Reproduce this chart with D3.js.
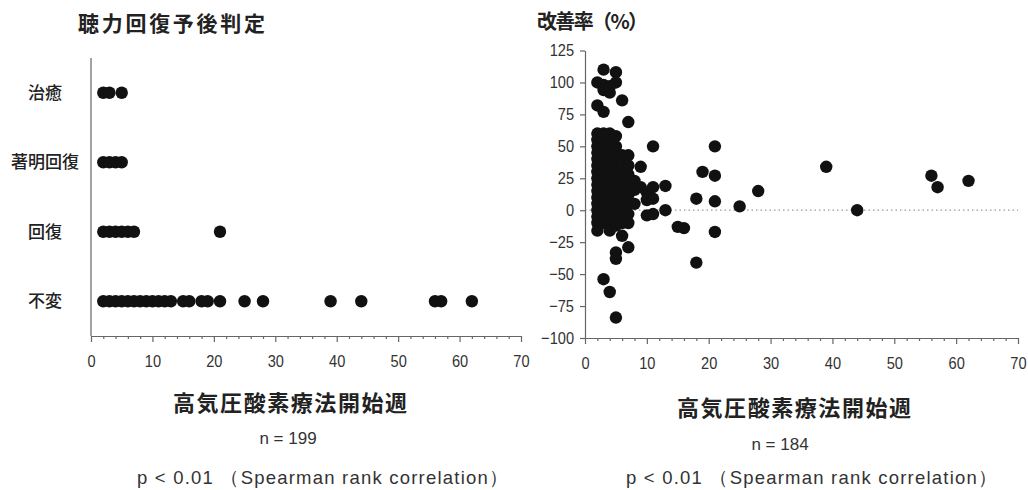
<!DOCTYPE html>
<html>
<head>
<meta charset="utf-8">
<script src="https://cdn.jsdelivr.net/npm/d3@7"></script>
<style>
  body { margin: 0; background: #fff; }
  svg { display: block; }
  .cjk { font-family: "Noto Sans CJK JP", "Noto Sans", sans-serif; fill: #222; }
  .num { font-family: "Liberation Sans", Arial, sans-serif; fill: #333; }
  .axis path, .axis line { stroke: #666; stroke-width: 1.2; }
  .axis text { font-family: "Liberation Sans", Arial, sans-serif; font-size: 17px; fill: #333; }
</style>
</head>
<body>
<svg id="chart" width="1028" height="490"></svg>
<script>
// ---- data ----
// Prognosis grades, bottom to top
const gradeLabels = ["不変", "回復", "著明回復", "治癒"];
// Week of HBO start for each grade
const unchangedWeeks = [2, 3, 4, 5, 6, 7, 8, 9, 10, 11, 12, 13, 15, 16, 18, 19, 21, 25, 28, 39, 44, 56, 57, 62];
const recoveryWeeks = [2, 3, 4, 5, 6, 7, 21];
const markedWeeks = [2, 3, 4, 5];
const cureWeeks = [2, 3, 5];

// Improvement rate (%) against week of HBO start: [week, rate]
const rateSeries = [
  [2, 100], [2, 82], [2, 60], [2, 55], [2, 50], [2, 45], [2, 40], [2, 35], [2, 30], [2, 25],
  [2, 20], [2, 15], [2, 10], [2, 5], [2, 0], [2, -5], [2, -10], [2, -16],
  [3, 110], [3, 98], [3, 94], [3, 77], [3, 60], [3, 55], [3, 50], [3, 45], [3, 40], [3, 35],
  [3, 30], [3, 25], [3, 20], [3, 15], [3, 10], [3, 5], [3, 0], [3, -5], [3, -10], [3, -54],
  [4, 97], [4, 92], [4, 60], [4, 52], [4, 45], [4, 38], [4, 30], [4, 22], [4, 15], [4, 8],
  [4, 0], [4, -6], [4, -12], [4, -16], [4, -64],
  [5, 108], [5, 100], [5, 58], [5, 50], [5, 42], [5, 34], [5, 26], [5, 18], [5, 10], [5, 2],
  [5, -5], [5, -12], [5, -33], [5, -38], [5, -84],
  [6, 86], [6, 43], [6, 36], [6, 28], [6, 20], [6, 12], [6, 5], [6, -3], [6, -10], [6, -20],
  [7, 69], [7, 43], [7, 35], [7, 28], [7, 20], [7, 12], [7, 5], [7, -3], [7, -10], [7, -29],
  [8, 23], [8, 16], [8, 5],
  [9, 34], [9, 18],
  [10, 14], [10, 8], [10, -4],
  [11, 50], [11, 18], [11, 9], [11, -3],
  [13, 19], [13, 0],
  [15, -13], [16, -14],
  [18, 9], [18, -41],
  [19, 30],
  [21, 50], [21, 27], [21, 7], [21, -17],
  [25, 3], [28, 15], [39, 34], [44, 0],
  [56, 27], [57, 18], [62, 23]
];

const weekTicks = d3.range(0, 71, 2);
const rateTicks = d3.range(-100, 126, 25);

const dotR = 6.2;
const dotColor = "#111";

const svg = d3.select("#chart");

// ---- left panel: prognosis grade vs start week ----
const xL = d3.scaleLinear().domain([0, 70]).range([91, 521]);
const yL = d3.scalePoint().domain(gradeLabels).range([336, 58]).padding(0.5);

const gradeRows = [
  { grade: "不変", weeks: unchangedWeeks },
  { grade: "回復", weeks: recoveryWeeks },
  { grade: "著明回復", weeks: markedWeeks },
  { grade: "治癒", weeks: cureWeeks }
];

// condensed look for the numeric tick labels
function narrowLabels(g) {
  g.selectAll(".tick text").each(function () {
    const t = d3.select(this);
    const x = +t.attr("x") || 0;
    t.attr("x", x / 0.86).attr("transform", "scale(0.86,1)");
  });
}

function weekAxis(g, scale) {
  g.attr("class", "axis")
   .call(d3.axisBottom(scale)
     .tickValues(weekTicks)
     .tickSize(3)
     .tickSizeOuter(0)
     .tickFormat(d => d % 10 === 0 ? d : ""));
  g.selectAll(".tick line").attr("y2", d => d % 10 === 0 ? 6 : 3);
  g.selectAll(".tick text").attr("y", 19);
  narrowLabels(g);
}

svg.append("g").attr("transform", "translate(0,336)").call(g => weekAxis(g, xL));
svg.append("line")
  .attr("x1", 91).attr("x2", 91).attr("y1", 58).attr("y2", 336)
  .attr("stroke", "#666").attr("stroke-width", 1.2);

svg.append("g").selectAll("text").data(gradeLabels).join("text")
  .attr("class", "cjk")
  .attr("x", 45).attr("y", d => yL(d) + 6)
  .attr("text-anchor", "middle")
  .attr("font-size", 17).attr("font-weight", 500)
  .text(d => d);

svg.append("g").selectAll("g").data(gradeRows).join("g")
  .selectAll("circle").data(r => r.weeks.map(w => ({ w, grade: r.grade }))).join("circle")
  .attr("cx", d => xL(d.w)).attr("cy", d => yL(d.grade))
  .attr("r", dotR).attr("fill", dotColor);

// ---- right panel: improvement rate vs start week ----
const xR = d3.scaleLinear().domain([0, 70]).range([585, 1018]);
const yR = d3.scaleLinear().domain([-100, 125]).range([338, 50.5]);

svg.append("line")
  .attr("x1", xR(0)).attr("x2", xR(70)).attr("y1", yR(0)).attr("y2", yR(0))
  .attr("stroke", "#999").attr("stroke-width", 1.2).attr("stroke-dasharray", "1.5,3");

svg.append("g").attr("transform", "translate(0,338)").call(g => weekAxis(g, xR));
svg.append("g").attr("class", "axis").attr("transform", "translate(585,0)")
  .call(d3.axisLeft(yR).tickValues(rateTicks).tickSize(5).tickSizeOuter(0).tickPadding(6))
  .call(narrowLabels);

svg.append("g").selectAll("circle").data(rateSeries).join("circle")
  .attr("cx", d => xR(d[0])).attr("cy", d => yR(d[1]))
  .attr("r", dotR).attr("fill", dotColor);

// ---- titles and notes ----
svg.append("text").attr("class", "cjk")
  .attr("x", 78).attr("y", 31).attr("font-size", 21).attr("font-weight", 700)
  .attr("textLength", 187).attr("lengthAdjust", "spacing")
  .text("聴力回復予後判定");
svg.append("text").attr("class", "cjk")
  .attr("x", 537).attr("y", 29).attr("font-size", 20).attr("font-weight", 700)
  .attr("textLength", 111).attr("lengthAdjust", "spacing")
  .text("改善率（%）");

const footers = [
  { cx: 290, titleY: 411, n: "n = 199", nX: 288, nY: 444, pX: 137, pY: 484 },
  { cx: 794, titleY: 416, n: "n = 184", nX: 780, nY: 450, pX: 626, pY: 484 }
];
footers.forEach(f => {
  svg.append("text").attr("class", "cjk")
    .attr("x", f.cx - 117).attr("y", f.titleY).attr("font-size", 22).attr("font-weight", 700)
    .attr("textLength", 234).attr("lengthAdjust", "spacing")
    .text("高気圧酸素療法開始週");
  svg.append("text").attr("class", "num")
    .attr("x", f.nX).attr("y", f.nY).attr("text-anchor", "middle").attr("font-size", 17)
    .text(f.n);
  svg.append("text").attr("class", "num")
    .attr("x", f.pX).attr("y", f.pY).attr("font-size", 18.5)
    .attr("textLength", 371).attr("lengthAdjust", "spacing")
    .text("p < 0.01 （Spearman rank correlation）");
});
</script>
</body>
</html>
